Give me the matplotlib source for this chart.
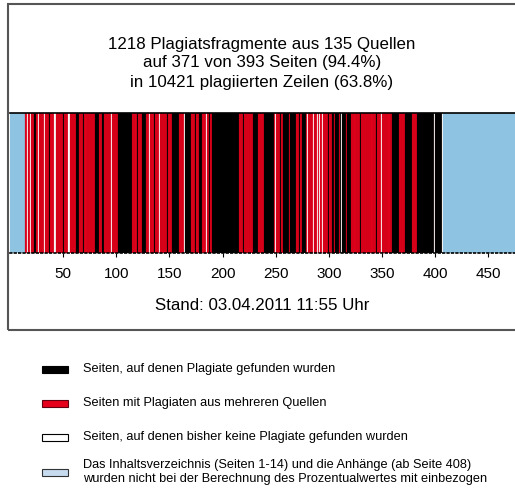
import numpy as np
import matplotlib
matplotlib.use("Agg")
import matplotlib.pyplot as plt
from matplotlib.patches import Rectangle

plt.rcParams['font.family'] = ['Liberation Sans', 'DejaVu Sans']

# page status data (pages 15..407 counted, rest is appendix / toc)
total_pages = 475
toc_end = 14
appendix_start = 408
white_pages = [17, 20, 27, 33, 42, 43, 56, 96, 132, 141, 165, 185, 250, 280,
               286, 290, 292, 294, 312, 350, 400, 407]
black_runs = [(24, 24), (38, 38), (51, 51), (63, 65), (70, 70), (81, 84), (88, 88),
              (103, 115), (120, 120), (125, 128), (136, 136), (149, 149), (153, 159),
              (166, 170), (175, 175), (179, 181), (188, 188), (191, 215), (220, 220),
              (230, 233), (240, 248), (255, 255), (258, 262), (264, 269), (273, 273),
              (276, 278), (300, 300), (304, 305), (307, 309), (311, 311), (313, 316),
              (318, 321), (330, 330), (345, 345), (360, 366), (373, 378), (384, 399),
              (401, 406)]
tick_vals = [50, 100, 150, 200, 250, 300, 350, 400, 450]

title_lines = ["1218 Plagiatsfragmente aus 135 Quellen",
               "auf 371 von 393 Seiten (94.4%)",
               "in 10421 plagiierten Zeilen (63.8%)"]
stand = "Stand: 03.04.2011 11:55 Uhr"
legend_labels = ["Seiten, auf denen Plagiate gefunden wurden",
                 "Seiten mit Plagiaten aus mehreren Quellen",
                 "Seiten, auf denen bisher keine Plagiate gefunden wurden",
                 "Das Inhaltsverzeichnis (Seiten 1-14) und die Anhänge (ab Seite 408)\n"
                 "wurden nicht bei der Berechnung des Prozentualwertes mit einbezogen"]

RED = '#e6001c'
BLUE = '#8ec4e2'

black_set = set()
for a, b in black_runs:
    black_set.update(range(a, b + 1))

pages = np.arange(1, total_pages + 1)
colors = []
edges = []
for p in pages:
    if p <= toc_end or p >= appendix_start:
        colors.append(BLUE)
        edges.append(BLUE)
    elif p in white_pages:
        colors.append('white')
        edges.append('#f6d6d8')
    elif p in black_set:
        colors.append('black')
        edges.append('black')
    else:
        colors.append(RED)
        edges.append('#b40016')

W, H = 515, 488
fig = plt.figure(figsize=(W / 100, H / 100), dpi=100)

# outer frame
fig.patches.append(Rectangle((8 / W, 1 - 330 / H), 1.0, (330 - 4) / H, transform=fig.transFigure,
                             fill=False, edgecolor='#555555', linewidth=1.5))

for i, t in enumerate(title_lines):
    fig.text(262 / W, 1 - (44 + i * 19) / H, t, ha='center', va='center', fontsize=12.2)

ax = fig.add_axes([10 / W, 1 - 253 / H, 1 - 10 / W, (253 - 113) / H])
ax.bar(pages - 1, 1, width=1, align='edge', color=colors, edgecolor=edges, linewidth=0.15)
ax.set_xlim(0, total_pages)
ax.set_ylim(0, 1)
ax.set_yticks([])
ax.set_xticks(tick_vals)
ax.set_xticklabels([str(v) for v in tick_vals], fontsize=11)
ax.tick_params(axis='x', direction='out', length=3, pad=7)
for s in ['left', 'right']:
    ax.spines[s].set_visible(False)
ax.spines['top'].set_linewidth(1.2)
ax.spines['bottom'].set_linestyle(':')
ax.spines['bottom'].set_linewidth(1.2)

fig.text(262 / W, 1 - 306 / H, stand, ha='center', va='center', fontsize=12.2)

# legend
leg_y = [369, 403, 437, 472]
leg_face = ['black', RED, 'white', '#c8dcf0']
leg_edge = ['black', '#600010', 'black', '#333333']
for y, fc, ec, lab in zip(leg_y, leg_face, leg_edge, legend_labels):
    fig.patches.append(Rectangle((42 / W, 1 - (y + 3.5) / H), 26 / W, 7 / H, transform=fig.transFigure,
                                 facecolor=fc, edgecolor=ec, linewidth=0.8))
    fig.text(83 / W, 1 - y / H, lab, ha='left', va='center', fontsize=9.2, linespacing=1.15)

fig.savefig("out.png", dpi=100)
